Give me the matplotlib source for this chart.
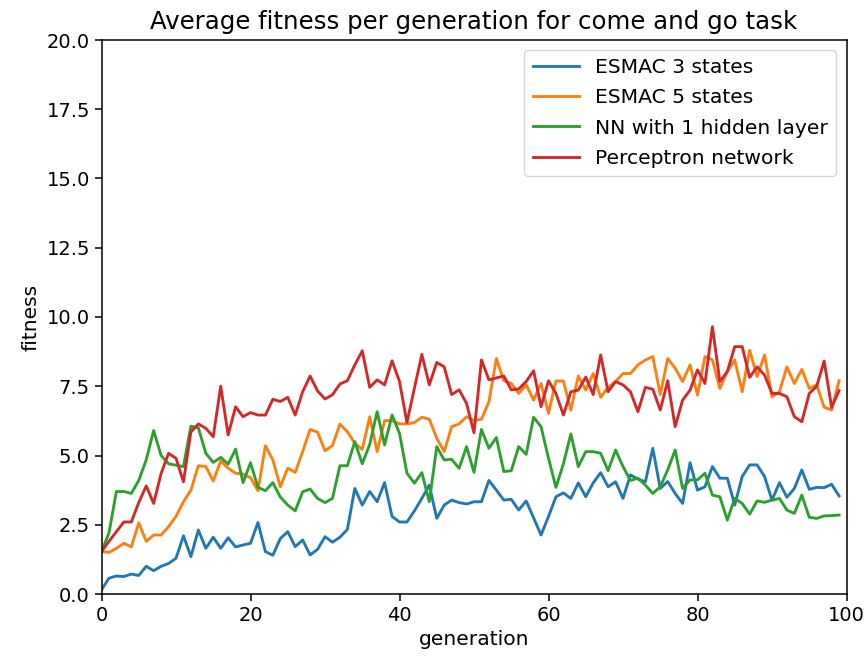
import numpy as np
import matplotlib
matplotlib.use("Agg")
import matplotlib.pyplot as plt

generations = np.arange(100)

esmac3 = [0.15, 0.57, 0.65, 0.63, 0.72, 0.67, 1.0, 0.84, 1.0, 1.1,
          1.29, 2.1, 1.35, 2.31, 1.65, 2.05, 1.65, 2.03, 1.7, 1.77,
          1.83, 2.58, 1.53, 1.4, 2.0, 2.25, 1.71, 1.95, 1.41, 1.61,
          2.07, 1.87, 2.05, 2.33, 3.81, 3.21, 3.7, 3.33, 4.02, 2.8,
          2.6, 2.6, 3.0, 3.45, 3.93, 2.73, 3.21, 3.39, 3.3, 3.25,
          3.33, 3.33, 4.1, 3.75, 3.39, 3.42, 3.03, 3.36, 2.75, 2.13,
          2.8, 3.51, 3.65, 3.45, 4.01, 3.51, 4.01, 4.38, 3.87, 4.05,
          3.45, 4.3, 4.15, 4.05, 5.26, 3.81, 4.06, 3.63, 3.27, 4.74,
          3.75, 3.87, 4.6, 4.18, 4.18, 3.21, 4.24, 4.66, 4.66, 4.24,
          3.39, 4.02, 3.49, 3.81, 4.48, 3.78, 3.85, 3.84, 3.96, 3.54]

esmac5 = [1.53, 1.5, 1.65, 1.83, 1.7, 2.57, 1.9, 2.13, 2.13, 2.43,
          2.8, 3.33, 3.75, 4.63, 4.6, 4.08, 4.8, 4.54, 4.36, 4.33,
          4.2, 3.73, 5.35, 4.84, 3.87, 4.54, 4.39, 5.14, 5.94, 5.84,
          5.17, 5.36, 6.13, 5.86, 5.44, 5.22, 6.4, 5.14, 6.26, 6.26,
          6.14, 6.14, 6.19, 6.38, 6.31, 5.62, 5.14, 6.04, 6.14, 6.4,
          6.26, 6.31, 6.94, 8.5, 7.7, 7.6, 7.24, 7.55, 7.0, 7.6,
          6.52, 7.69, 7.69, 6.64, 7.87, 7.36, 7.96, 7.1, 7.46, 7.67,
          7.96, 7.96, 8.27, 8.45, 8.57, 7.2, 8.5, 8.15, 7.67, 8.27,
          7.18, 8.57, 8.45, 7.42, 8.03, 8.45, 7.3, 8.8, 7.85, 8.63,
          7.12, 7.3, 8.2, 7.6, 8.11, 7.42, 7.55, 6.74, 6.64, 7.7]

nn_hidden = [1.53, 2.2, 3.7, 3.7, 3.63, 4.1, 4.84, 5.9, 5.0, 4.7,
             4.65, 4.6, 6.06, 6.0, 5.08, 4.75, 4.93, 4.69, 5.23, 4.02,
             4.74, 3.85, 3.73, 4.02, 3.5, 3.21, 3.0, 3.69, 3.79, 3.45,
             3.3, 3.45, 4.63, 4.63, 5.5, 4.7, 5.4, 6.58, 5.38, 6.46,
             5.8, 4.36, 4.0, 4.38, 3.33, 5.32, 4.84, 4.86, 4.54, 5.32,
             4.39, 5.94, 5.26, 5.65, 4.42, 4.45, 5.32, 5.04, 6.38, 6.04,
             4.9, 3.85, 4.7, 5.78, 4.6, 5.14, 5.14, 5.08, 4.45, 5.2,
             4.6, 4.1, 4.18, 3.93, 3.63, 3.87, 4.48, 5.2, 3.81, 4.12,
             4.12, 4.36, 3.57, 3.51, 2.67, 3.45, 3.27, 2.88, 3.36, 3.31,
             3.39, 3.45, 3.03, 2.91, 3.57, 2.77, 2.73, 2.82, 2.83, 2.85]

perceptron = [1.53, 1.9, 2.25, 2.6, 2.6, 3.3, 3.9, 3.27, 4.35, 5.08,
              4.9, 4.05, 5.85, 6.14, 5.98, 5.68, 7.5, 5.74, 6.76, 6.4,
              6.55, 6.46, 6.46, 7.03, 6.95, 7.1, 6.46, 7.3, 7.87, 7.33,
              7.04, 7.19, 7.58, 7.7, 8.27, 8.78, 7.46, 7.73, 7.55, 8.42,
              7.67, 6.19, 7.43, 8.65, 7.55, 8.36, 8.2, 7.2, 7.37, 6.88,
              5.82, 8.45, 7.73, 7.8, 7.87, 7.37, 7.4, 7.67, 8.06, 6.76,
              7.7, 7.24, 6.46, 7.3, 7.36, 7.83, 7.2, 8.63, 7.3, 7.67,
              7.55, 7.3, 6.58, 7.46, 7.39, 6.64, 7.7, 6.04, 7.0, 7.36,
              8.09, 7.6, 9.65, 7.67, 8.03, 8.93, 8.93, 7.82, 8.2, 7.9,
              7.24, 7.24, 7.12, 6.4, 6.22, 7.24, 7.5, 8.41, 6.74, 7.34]

labels = ["ESMAC 3 states", "ESMAC 5 states", "NN with 1 hidden layer", "Perceptron network"]

k = 1.37  # reference looks like a default 100dpi figure blown up
plt.rcParams["font.size"] = 14.6
plt.rcParams["axes.linewidth"] = 0.8 * k
for a in ("xtick", "ytick"):
    plt.rcParams[a + ".major.size"] = 3.5 * k
    plt.rcParams[a + ".major.width"] = 0.8 * k

fig = plt.figure(figsize=(8.67, 6.58), dpi=100)
ax = fig.add_axes([101.5 / 867, 64 / 658, 745 / 867, 554 / 658])

for series, lab in zip([esmac3, esmac5, nn_hidden, perceptron], labels):
    ax.plot(generations, series, label=lab, linewidth=1.5 * k)

ax.set_xlim(0, 100)
ax.set_ylim(0, 20)
ax.set_yticks(np.arange(0, 20.1, 2.5))
ax.tick_params(labelsize=14)
ax.set_title("Average fitness per generation for come and go task", fontsize=17.6, pad=8)
ax.set_xlabel("generation")
ax.set_ylabel("fitness")
ax.legend(loc="upper right", fontsize=14.6, handlelength=2.3, labelspacing=0.55)

fig.savefig("out.png", dpi=100)
